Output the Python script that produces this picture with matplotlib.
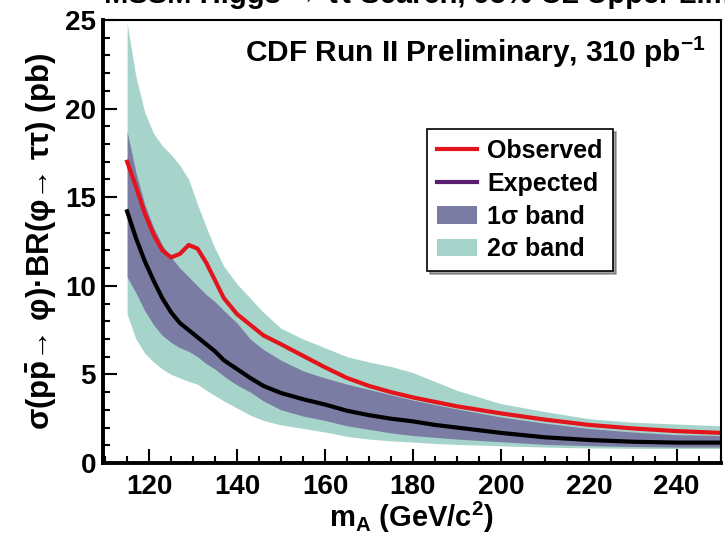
import matplotlib
matplotlib.use("Agg")
import matplotlib.pyplot as plt
from matplotlib.lines import Line2D
from matplotlib.patches import Patch
from matplotlib.ticker import MultipleLocator

# data (m_A in GeV/c^2, limits in pb)
mass = [115, 117, 119, 121, 123, 125, 127, 129, 131, 133, 135, 137, 140, 143, 146,
        150, 155, 160, 165, 170, 175, 180, 185, 190, 200, 210, 220, 230, 240, 250]
observed = [17.0, 15.6, 14.1, 12.9, 12.0, 11.6, 11.8, 12.3, 12.1, 11.3, 10.3, 9.3, 8.4, 7.8, 7.2,
            6.7, 6.05, 5.4, 4.8, 4.35, 4.0, 3.7, 3.45, 3.2, 2.8, 2.45, 2.15, 1.95, 1.8, 1.7]
expected = [14.2, 12.7, 11.4, 10.3, 9.3, 8.5, 7.9, 7.5, 7.1, 6.7, 6.3, 5.8, 5.3, 4.8, 4.35,
            3.95, 3.6, 3.3, 2.95, 2.7, 2.5, 2.35, 2.15, 2.0, 1.7, 1.45, 1.3, 1.2, 1.15, 1.15]
band1_hi = [18.7, 16.4, 14.6, 13.3, 12.3, 11.6, 11.0, 10.5, 10.0, 9.5, 9.1, 8.6, 7.9, 7.0, 6.4,
            5.8, 5.2, 4.8, 4.45, 4.15, 3.85, 3.55, 3.3, 3.05, 2.6, 2.25, 1.95, 1.75, 1.6, 1.55]
band1_lo = [10.5, 9.6, 8.6, 7.8, 7.2, 6.8, 6.5, 6.3, 6.0, 5.6, 5.3, 4.9, 4.4, 4.0, 3.5,
            3.0, 2.65, 2.4, 2.1, 1.9, 1.7, 1.55, 1.45, 1.35, 1.2, 1.05, 0.98, 0.93, 0.9, 0.9]
band2_hi = [24.8, 21.8, 19.8, 18.6, 17.9, 17.4, 16.8, 16.0, 14.6, 13.3, 12.1, 11.1, 10.1, 9.3, 8.5,
            7.6, 7.0, 6.5, 6.0, 5.7, 5.45, 5.1, 4.6, 4.1, 3.35, 2.9, 2.5, 2.3, 2.2, 2.1]
band2_lo = [8.4, 7.0, 6.2, 5.7, 5.3, 5.0, 4.8, 4.6, 4.45, 4.1, 3.8, 3.5, 3.1, 2.7, 2.4,
            2.15, 1.95, 1.75, 1.5, 1.35, 1.25, 1.18, 1.1, 1.05, 0.97, 0.9, 0.85, 0.83, 0.82, 0.82]

green = '#a6d4cb'
purple = '#7a7ca3'
red = '#e3141b'

plt.rcParams['font.family'] = ['Liberation Sans', 'DejaVu Sans']
plt.rcParams['font.weight'] = 'bold'
plt.rcParams['mathtext.fontset'] = 'custom'
plt.rcParams['mathtext.rm'] = 'Liberation Sans:bold'
plt.rcParams['mathtext.it'] = 'Liberation Sans:bold'
plt.rcParams['mathtext.bf'] = 'Liberation Sans:bold'

fig = plt.figure(figsize=(7.25, 5.39), dpi=100)
ax = fig.add_axes([0.142, 0.141, 0.852, 0.822])

ax.fill_between(mass, band2_lo, band2_hi, color=green, lw=0)
ax.fill_between(mass, band1_lo, band1_hi, color=purple, lw=0)
ax.plot(mass, expected, color='black', lw=3)
ax.plot(mass, observed, color=red, lw=3)

ax.set_xlim(109.5, 250)
ax.set_ylim(0, 25)
ax.xaxis.set_major_locator(MultipleLocator(20))
ax.xaxis.set_minor_locator(MultipleLocator(5))
ax.yaxis.set_major_locator(MultipleLocator(5))
ax.yaxis.set_minor_locator(MultipleLocator(1))
ax.tick_params(which='both', direction='in', labelsize=20, width=1.5)
ax.tick_params(which='major', length=10)
ax.tick_params(which='minor', length=5)
ax.tick_params(axis='x', which='major', pad=8)
ax.tick_params(axis='y', which='major', pad=5)
for lab in ax.get_xticklabels() + ax.get_yticklabels():
    lab.set_fontweight('bold')

ax.spines['left'].set_linewidth(2.8)
ax.spines['bottom'].set_linewidth(2.8)
ax.spines['top'].set_linewidth(1.5)
ax.spines['right'].set_linewidth(1.5)

ax.set_xlabel(r'm$_\mathregular{A}$ (GeV/c$^\mathregular{2}$)', fontsize=21, fontweight='bold', labelpad=0)
ax.set_ylabel(r'σ(p$\bar{\mathregular{p}}$→ φ)·BR(φ→ ττ) (pb)', fontsize=22.5, fontweight='bold', labelpad=4)

ax.text(0.976, 0.905, r'CDF Run II Preliminary, 310 pb$^\mathregular{-1}$', transform=ax.transAxes,
        ha='right', va='baseline', fontsize=21.5, fontweight='bold')

fig.text(0.143, 0.995, 'MSSM Higgs → ττ Search, 95% CL Upper Limit',
         ha='left', va='baseline', fontsize=21, fontweight='bold')

handles = [Line2D([], [], color=red, lw=3),
           Line2D([], [], color='#5a1e6e', lw=3),
           Patch(facecolor=purple, edgecolor='none'),
           Patch(facecolor=green, edgecolor='none')]
labels = ['Observed', 'Expected', '1σ band', '2σ band']
leg = ax.legend(handles, labels, loc='upper left', bbox_to_anchor=(0.505, 0.782),
                frameon=True, fancybox=False, shadow=True,
                edgecolor='black', handlelength=1.6, handletextpad=0.4,
                labelspacing=0.35, borderpad=0.4, prop={'weight': 'bold', 'size': 18})
leg.get_frame().set_linewidth(1.2)

fig.savefig('out.png', dpi=100)
